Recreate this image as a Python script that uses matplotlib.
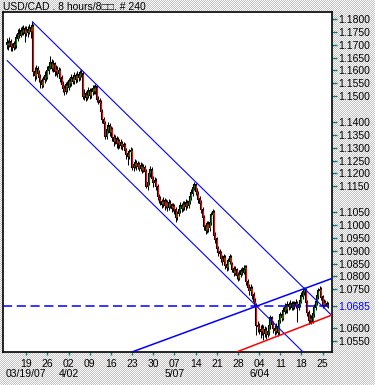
import numpy as np
import matplotlib
matplotlib.use("Agg")
import matplotlib.pyplot as plt

# 8-hour bars, USD/CAD
first_open = 1.1700
closes = [
    1.1708, 1.1700, 1.1712, 1.1695, 1.1690, 1.1702, 1.1698, 1.1725, 1.1742, 1.1738,
    1.1755, 1.1748, 1.1762, 1.1745, 1.1758, 1.1750, 1.1766, 1.1752, 1.1772, 1.1595,
    1.1580, 1.1605, 1.1590, 1.1575, 1.1560, 1.1545, 1.1565, 1.1580, 1.1575, 1.1600,
    1.1615, 1.1630, 1.1610, 1.1625, 1.1598, 1.1605, 1.1590, 1.1600, 1.1570, 1.1545,
    1.1530, 1.1520, 1.1545, 1.1535, 1.1560, 1.1550, 1.1572, 1.1560, 1.1578, 1.1565,
    1.1582, 1.1575, 1.1590, 1.1588, 1.1500, 1.1510, 1.1495, 1.1505, 1.1520, 1.1505,
    1.1518, 1.1530, 1.1522, 1.1535, 1.1490, 1.1482, 1.1475, 1.1440, 1.1410, 1.1395,
    1.1345, 1.1370, 1.1385, 1.1360, 1.1372, 1.1340, 1.1325, 1.1335, 1.1318, 1.1325,
    1.1310, 1.1318, 1.1305, 1.1312, 1.1290, 1.1275, 1.1268, 1.1285, 1.1290, 1.1225,
    1.1232, 1.1240, 1.1228, 1.1236, 1.1222, 1.1230, 1.1215, 1.1224, 1.1210, 1.1150,
    1.1165, 1.1200, 1.1215, 1.1180, 1.1165, 1.1172, 1.1150, 1.1110, 1.1100, 1.1092,
    1.1080, 1.1095, 1.1075, 1.1088, 1.1070, 1.1085, 1.1078, 1.1065, 1.1072, 1.1060,
    1.1030, 1.1045, 1.1060, 1.1075, 1.1065, 1.1080, 1.1072, 1.1085, 1.1078, 1.1092,
    1.1110, 1.1125, 1.1145, 1.1155, 1.1130, 1.1120, 1.1100, 1.1085, 1.1060, 1.1030,
    1.0995, 1.0980, 1.1005, 1.0990, 1.1010, 1.1040, 1.1050, 1.0960, 1.0945, 1.0910,
    1.0895, 1.0890, 1.0870, 1.0860, 1.0875, 1.0845, 1.0835, 1.0860, 1.0875, 1.0850,
    1.0830, 1.0815, 1.0825, 1.0805, 1.0795, 1.0810, 1.0822, 1.0818, 1.0830, 1.0838,
    1.0780, 1.0760, 1.0745, 1.0755, 1.0728, 1.0705, 1.0690, 1.0610, 1.0605, 1.0595,
    1.0588, 1.0600, 1.0580, 1.0592, 1.0575, 1.0585, 1.0610, 1.0640, 1.0615, 1.0598,
    1.0590, 1.0605, 1.0585, 1.0630, 1.0650, 1.0640, 1.0665, 1.0680, 1.0672, 1.0690,
    1.0685, 1.0695, 1.0680, 1.0692, 1.0688, 1.0698, 1.0680, 1.0690, 1.0705, 1.0725,
    1.0740, 1.0750, 1.0700, 1.0660, 1.0630, 1.0640, 1.0628, 1.0655, 1.0680, 1.0700,
    1.0725, 1.0745, 1.0750, 1.0720, 1.0690, 1.0700, 1.0695, 1.0690, 1.0685,
]
highs = [
    1.1725, 1.1718, 1.1728, 1.1722, 1.1708, 1.1716, 1.1714, 1.1740, 1.1760, 1.1765,
    1.1770, 1.1772, 1.1776, 1.1774, 1.1772, 1.1774, 1.1780, 1.1776, 1.1790, 1.1780,
    1.1615, 1.1620, 1.1616, 1.1602, 1.1586, 1.1572, 1.1580, 1.1596, 1.1600, 1.1616,
    1.1632, 1.1655, 1.1644, 1.1640, 1.1634, 1.1622, 1.1616, 1.1614, 1.1608, 1.1582,
    1.1560, 1.1545, 1.1556, 1.1560, 1.1572, 1.1574, 1.1586, 1.1584, 1.1592, 1.1590,
    1.1596, 1.1594, 1.1600, 1.1604, 1.1598, 1.1526, 1.1520, 1.1522, 1.1535, 1.1532,
    1.1532, 1.1545, 1.1542, 1.1548, 1.1544, 1.1502, 1.1494, 1.1484, 1.1452, 1.1420,
    1.1404, 1.1382, 1.1400, 1.1394, 1.1386, 1.1382, 1.1352, 1.1350, 1.1344, 1.1340,
    1.1334, 1.1332, 1.1326, 1.1324, 1.1320, 1.1300, 1.1286, 1.1296, 1.1302, 1.1298,
    1.1246, 1.1255, 1.1252, 1.1250, 1.1246, 1.1245, 1.1240, 1.1236, 1.1232, 1.1218,
    1.1176, 1.1212, 1.1228, 1.1224, 1.1192, 1.1186, 1.1182, 1.1158, 1.1122, 1.1112,
    1.1102, 1.1110, 1.1104, 1.1102, 1.1096, 1.1100, 1.1096, 1.1086, 1.1086, 1.1082,
    1.1068, 1.1056, 1.1072, 1.1090, 1.1086, 1.1094, 1.1092, 1.1100, 1.1096, 1.1106,
    1.1124, 1.1140, 1.1156, 1.1166, 1.1164, 1.1142, 1.1130, 1.1112, 1.1096, 1.1068,
    1.1038, 1.1006, 1.1016, 1.1014, 1.1024, 1.1052, 1.1062, 1.1058, 1.0972, 1.0954,
    1.0920, 1.0906, 1.0900, 1.0882, 1.0886, 1.0884, 1.0856, 1.0872, 1.0886, 1.0884,
    1.0858, 1.0842, 1.0840, 1.0834, 1.0816, 1.0824, 1.0834, 1.0836, 1.0844, 1.0846,
    1.0844, 1.0792, 1.0772, 1.0770, 1.0764, 1.0740, 1.0716, 1.0698, 1.0626, 1.0620,
    1.0612, 1.0616, 1.0612, 1.0606, 1.0602, 1.0600, 1.0624, 1.0652, 1.0648, 1.0626,
    1.0610, 1.0620, 1.0614, 1.0644, 1.0664, 1.0662, 1.0680, 1.0696, 1.0692, 1.0704,
    1.0702, 1.0708, 1.0704, 1.0706, 1.0704, 1.0712, 1.0706, 1.0704, 1.0720, 1.0740,
    1.0752, 1.0758, 1.0755, 1.0710, 1.0670, 1.0655, 1.0650, 1.0666, 1.0692, 1.0714,
    1.0736, 1.0756, 1.0764, 1.0758, 1.0728, 1.0712, 1.0708, 1.0706, 1.0700,
]
lows = [
    1.1684, 1.1680, 1.1690, 1.1676, 1.1674, 1.1680, 1.1684, 1.1688, 1.1714, 1.1726,
    1.1728, 1.1736, 1.1738, 1.1712, 1.1734, 1.1730, 1.1740, 1.1724, 1.1744, 1.1580,
    1.1560, 1.1568, 1.1574, 1.1556, 1.1530, 1.1530, 1.1534, 1.1550, 1.1558, 1.1566,
    1.1588, 1.1604, 1.1596, 1.1594, 1.1580, 1.1584, 1.1574, 1.1576, 1.1556, 1.1530,
    1.1516, 1.1505, 1.1508, 1.1518, 1.1524, 1.1536, 1.1540, 1.1546, 1.1548, 1.1550,
    1.1554, 1.1560, 1.1564, 1.1574, 1.1488, 1.1486, 1.1480, 1.1484, 1.1494, 1.1490,
    1.1494, 1.1506, 1.1508, 1.1510, 1.1478, 1.1468, 1.1460, 1.1426, 1.1394, 1.1380,
    1.1334, 1.1334, 1.1358, 1.1346, 1.1344, 1.1326, 1.1308, 1.1314, 1.1300, 1.1296,
    1.1298, 1.1296, 1.1292, 1.1294, 1.1276, 1.1258, 1.1234, 1.1256, 1.1270, 1.1214,
    1.1210, 1.1220, 1.1214, 1.1216, 1.1208, 1.1210, 1.1200, 1.1204, 1.1196, 1.1142,
    1.1136, 1.1154, 1.1188, 1.1168, 1.1146, 1.1150, 1.1136, 1.1096, 1.1084, 1.1076,
    1.1064, 1.1068, 1.1060, 1.1064, 1.1056, 1.1058, 1.1064, 1.1050, 1.1054, 1.1044,
    1.1012, 1.1018, 1.1034, 1.1048, 1.1050, 1.1054, 1.1058, 1.1060, 1.1064, 1.1066,
    1.1080, 1.1098, 1.1114, 1.1134, 1.1118, 1.1106, 1.1086, 1.1070, 1.1046, 1.1016,
    1.0980, 1.0966, 1.0970, 1.0974, 1.0978, 1.0998, 1.1028, 1.0948, 1.0930, 1.0896,
    1.0880, 1.0876, 1.0856, 1.0844, 1.0848, 1.0830, 1.0822, 1.0824, 1.0848, 1.0836,
    1.0816, 1.0800, 1.0804, 1.0790, 1.0784, 1.0786, 1.0798, 1.0804, 1.0808, 1.0818,
    1.0768, 1.0746, 1.0730, 1.0734, 1.0714, 1.0690, 1.0676, 1.0574, 1.0586, 1.0578,
    1.0560, 1.0574, 1.0555, 1.0566, 1.0558, 1.0564, 1.0574, 1.0596, 1.0600, 1.0580,
    1.0574, 1.0578, 1.0570, 1.0574, 1.0618, 1.0626, 1.0630, 1.0654, 1.0658, 1.0660,
    1.0670, 1.0674, 1.0668, 1.0670, 1.0674, 1.0678, 1.0624, 1.0668, 1.0680, 1.0696,
    1.0714, 1.0728, 1.0688, 1.0646, 1.0616, 1.0618, 1.0614, 1.0618, 1.0644, 1.0668,
    1.0690, 1.0714, 1.0734, 1.0708, 1.0678, 1.0682, 1.0684, 1.0680, 1.0677,
]

# weekly (Monday) ticks, 15 bars a week, Mar 19 is bar 15
week_labels = ["19", "26", "02", "09", "16", "23", "30", "07", "14", "21", "28", "04", "11", "18", "25"]
month_labels = {0: "03/19/07", 2: "4/02", 7: "5/07", 11: "6/04"}

y_ticks = [1.18, 1.175, 1.17, 1.165, 1.16, 1.155, 1.15,
           1.14, 1.135, 1.13, 1.125, 1.12, 1.115,
           1.105, 1.10, 1.095, 1.09, 1.085, 1.08, 1.075, 1.0685, 1.06, 1.055]
ref_level = 1.0685

# trend lines drawn on the chart (bar index, price)
down_upper = ([19.5, 231.4], [1.1788, 1.0649])
down_lower = ([1.5, 210.9], [1.1638, 1.0508])
up_upper = ([90.4, 231.4], [1.0508, 1.0792])
up_lower = ([164.5, 231.4], [1.0508, 1.0650])

plt.rcParams['font.family'] = ['Liberation Sans', 'DejaVu Sans']
plt.rcParams['font.size'] = 7.5

fig = plt.figure(figsize=(3.75, 3.85), dpi=100)

# dithered grey background
yy, xx = np.mgrid[0:385, 0:375]
bg = np.where((xx + yy) % 2 == 0, 1.0, 0.76)
fig.figimage(bg, cmap="gray", vmin=0, vmax=1, zorder=-10)

ax = fig.add_axes([3 / 375, 33.3 / 385, 328.7 / 375, 340 / 385])
ax.set_zorder(2)
ax.set_facecolor("white")

x = np.arange(1, len(closes) + 1)
opens = [first_open] + closes[:-1]
o = np.array(opens)
c = np.array(closes)
up = c >= o
body_lo = np.minimum(o, c)
body_hi = np.maximum(o, c)

ax.vlines(x, lows, highs, color="black", lw=0.75, zorder=3)
ax.vlines(x, body_lo - 0.0003, body_hi + 0.0003, color="black", lw=1.5, zorder=3)
ax.vlines(x[up], body_lo[up], body_hi[up], color="#008000", lw=0.75, zorder=4)
ax.vlines(x[~up], body_lo[~up], body_hi[~up], color="#ff0000", lw=0.75, zorder=4)

ax.plot(*down_upper, color="#0000ff", lw=0.8, zorder=5)
ax.plot(*down_lower, color="#0000ff", lw=0.8, zorder=5)
ax.plot(*up_upper, color="#0000ff", lw=1.1, zorder=5)
ax.plot(*up_lower, color="#ff0000", lw=1.1, zorder=5)
ax.axhline(ref_level, color="#0000ff", lw=1.1, ls=(0, (6, 3)), zorder=5)

ax.set_xlim(-1.5, 231.4)
ax.set_ylim(1.0508, 1.1828)

ax.yaxis.tick_right()
ax.set_yticks(y_ticks)
ax.set_yticklabels([f"{v:.4f}" for v in y_ticks])
ax.tick_params(axis="y", direction="out", length=3.5, width=1, color="#008080", pad=1.5)
idx = y_ticks.index(ref_level)
ax.get_yticklabels()[idx].set_color("#0000ff")
ax.yaxis.get_major_ticks()[idx].tick2line.set_color("#0000ff")

tick_pos = [15 + 15 * k for k in range(len(week_labels))]
ax.set_xticks(tick_pos)
ax.set_xticklabels(week_labels)
ax.tick_params(axis="x", direction="out", length=2.5, width=1, color="#008080", pad=3)
for k, lab in month_labels.items():
    ax.text(tick_pos[k], -0.052, lab, transform=ax.get_xaxis_transform(),
            ha="center", va="top")

for s in ax.spines.values():
    s.set_linewidth(1.2)
    s.set_color("black")

fig.text(3 / 375, 1 - 7 / 385, "USD/CAD . 8 hours/8\u25a1\u25a1. # 240", ha="left", va="center")

fig.savefig("out.png", dpi=100)
